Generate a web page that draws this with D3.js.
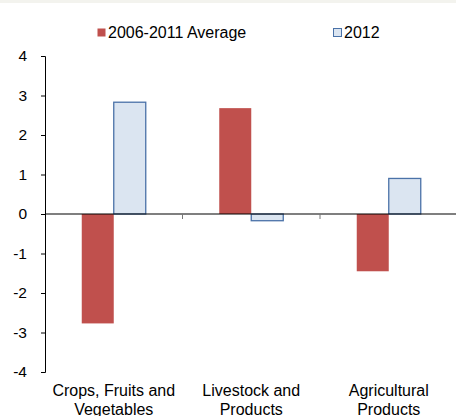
<!DOCTYPE html>
<html>
<head>
<meta charset="utf-8">
<script src="https://cdn.jsdelivr.net/npm/d3@7"></script>
<style>
  body { margin: 0; background: #fff; }
  text { font-family: "Liberation Sans", Arial, sans-serif; fill: #000; }
</style>
</head>
<body>
<svg id="chart" width="456" height="416"></svg>
<script>
// data
var categories = ["Crops, Fruits and|Vegetables", "Livestock and|Products", "Agricultural|Products"];
var seriesNames = ["2006-2011 Average", "2012"];
var avgValues = [-2.77, 2.68, -1.45];
var val2012 = [2.83, -0.17, 0.9];
var yTicks = [-4, -3, -2, -1, 0, 1, 2, 3, 4];

var svg = d3.select("#chart");

// faint strip at the very top (cut off title area)
svg.append("rect").attr("x", 0).attr("y", 0).attr("width", 456).attr("height", 3).attr("fill", "#f3f3ee");

var x = d3.scaleBand().domain(d3.range(categories.length)).range([45, 457.5]);
var y = d3.scaleLinear().domain([-4, 4]).range([372, 56]);
var barW = 32;

// y axis
var yAxis = d3.axisLeft(y).tickValues(yTicks).tickSize(4).tickPadding(14).tickFormat(function(d) { return String(d); });
var gy = svg.append("g").attr("transform", "translate(45,0)").call(yAxis);
gy.select(".domain").attr("stroke", "#000").attr("d", "M-4,56.5H0.5V372.5H-4");
gy.selectAll(".tick line").attr("stroke", "#000");
gy.selectAll(".tick text").style("font-size", "15.5px").attr("fill", "#000");

// bars
var fills = ["#c0504d", "#dbe5f1"];
var series = [avgValues, val2012];
series.forEach(function(vals, s) {
  svg.append("g").selectAll("rect")
    .data(vals)
    .join("rect")
    .attr("x", function(d, i) { return x(i) + x.bandwidth() / 2 - barW + s * barW; })
    .attr("y", function(d) { return y(Math.max(0, d)); })
    .attr("width", barW)
    .attr("height", function(d) { return Math.abs(y(d) - y(0)); })
    .attr("fill", fills[s])
    .attr("stroke", s == 1 ? "#4a72a8" : "none")
    .attr("stroke-width", 1.3);
});

// zero line with category ticks
svg.append("line").attr("x1", 45).attr("x2", 456).attr("y1", y(0)).attr("y2", y(0))
  .attr("stroke", "#000").attr("stroke-width", 1.2);
svg.append("g").selectAll("line")
  .data(d3.range(1, categories.length))
  .join("line")
  .attr("x1", function(i) { return x(i); })
  .attr("x2", function(i) { return x(i); })
  .attr("y1", y(0))
  .attr("y2", y(0) + 5)
  .attr("stroke", "#777");

// category labels
var lab = svg.append("g").selectAll("text")
  .data(categories)
  .join("text")
  .attr("text-anchor", "middle")
  .style("font-size", "16px")
  .attr("transform", function(d, i) { return "translate(" + (x(i) + x.bandwidth() / 2) + ",396)"; });
lab.selectAll("tspan")
  .data(function(d) { return d.split("|"); })
  .join("tspan")
  .attr("x", 0)
  .attr("y", function(d, j) { return j * 18.5; })
  .text(function(d) { return d; });

// legend
var legendX = [97, 333];
var leg = svg.append("g").selectAll("g")
  .data(seriesNames)
  .join("g")
  .attr("transform", function(d, i) { return "translate(" + legendX[i] + ",28)"; });
leg.append("rect")
  .attr("x", 0.5).attr("y", 0.5).attr("width", 8).attr("height", 8)
  .attr("fill", function(d, i) { return fills[i]; })
  .attr("stroke", function(d, i) { return i == 1 ? "#4a72a8" : "none"; });
leg.append("text")
  .attr("x", 11).attr("y", 9.5)
  .style("font-size", "16px")
  .text(function(d) { return d; });
</script>
</body>
</html>
